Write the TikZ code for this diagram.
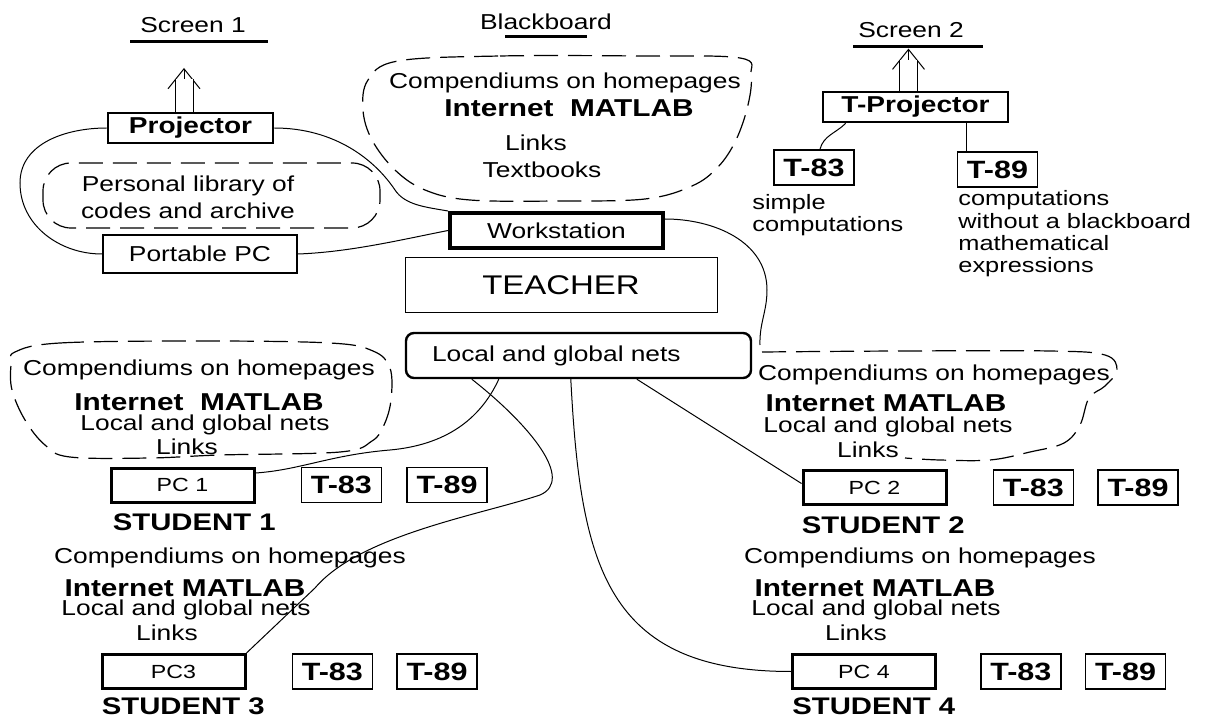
\documentclass[tikz,border=0pt]{standalone}
\usepackage{fontspec}
\setmainfont{Liberation Sans}[FakeStretch=1.22]
\usepackage{tikz}
\usetikzlibrary{arrows.meta, positioning, calc}
\tikzset{
  plain/.style={inner sep=0pt, font=\fontsize{10.8}{11}\selectfont},
  heavy/.style={inner sep=0pt, font=\bfseries\fontsize{12.2}{12.5}\selectfont},
  note/.style={inner sep=0pt, align=left, font=\fontsize{10.4}{11.2}\selectfont},
  stulbl/.style={inner sep=0pt, font=\bfseries\fontsize{12}{12}\selectfont},
  calcbox/.style={
    draw, line width=0.85pt, inner sep=0pt,
    minimum width=40pt, minimum height=17.5pt,
    font=\bfseries\fontsize{12.5}{13}\selectfont
  },
  pcbox/.style={
    draw, line width=1.5pt, inner sep=0pt,
    minimum width=71.5pt, minimum height=17pt,
    font=\fontsize{9.5}{10}\selectfont
  },
  projbox/.style={
    draw, line width=1.3pt, inner sep=0pt, minimum height=15pt,
    font=\bfseries\fontsize{11.5}{12}\selectfont
  },
  wire/.style={line width=0.5pt},
  cloudline/.style={line width=0.6pt, dash pattern=on 12pt off 5pt},
  screenbar/.style={line width=1.5pt},
  beam/.style={double, double distance=8.5pt, line width=0.5pt},
  beamtip/.style={line width=0.5pt, -{Straight Barb[length=10pt,width=16pt]}}
}

\begin{document}
\begin{tikzpicture}[x=0.5pt, y=-0.5pt]
  \useasboundingbox (0,0) rectangle (1207,717);

  %% -- Screens and blackboard ------------------------------------------
  \node[plain] (scr1) at (193,25) {Screen 1};
  \coordinate (bar1) at (199,42);
  \draw[screenbar] ([xshift=-34.5pt]bar1) -- ([xshift=34.5pt]bar1);

  \node[plain] (board) at (546,22) {Blackboard};
  \coordinate (bar0) at (546,37);
  \draw[screenbar] ([xshift=-20.5pt]bar0) -- ([xshift=20.5pt]bar0);

  \node[plain] (scr2) at (911,30) {Screen 2};
  \coordinate (bar2) at (918,47);
  \draw[screenbar] ([xshift=-32.5pt]bar2) -- ([xshift=32.5pt]bar2);

  %% -- Teacher desk ----------------------------------------------------
  \node[projbox, minimum width=82.5pt] (proj) at (190.5,128) {Projector};
  \node[projbox, line width=1.2pt, minimum width=97pt, minimum height=19pt,
        font=\fontsize{10.8}{11}\selectfont] (ppc) at (200,254) {Portable PC};
  \node[draw, line width=2pt, minimum width=106.5pt, minimum height=17.5pt,
        plain] (ws) at (556.5,230.5) {Workstation};
  \node[draw, line width=0.5pt, minimum width=156pt, minimum height=27.5pt,
        inner sep=0pt, font=\fontsize{13.5}{14}\selectfont] (teach) at (561,285.5) {TEACHER};
  \node[draw, line width=1.2pt, rounded corners=4pt, minimum height=22.5pt,
        inner xsep=13pt, inner ysep=0pt, text width=146.5pt, align=left,
        font=\fontsize{10.8}{11}\selectfont] (local) at (578.5,355.5) {Local and global nets};

  % personal library
  \draw[cloudline, rounded corners=14pt] (43,163) rectangle (380,228);
  \node[plain, align=center, font=\fontsize{10.8}{13.5}\selectfont] (plib) at (188,197)
    {Personal library of\\codes and archive};

  % blackboard cloud
  \draw[cloudline] plot[smooth cycle, tension=0.6] coordinates {
    (398,61) (500,56) (640,56) (740,58) (751,75) (748,105) (736,140)
    (718,167) (692,186) (645,199) (560,201) (470,200) (425,190)
    (395,170) (372,140) (363,110) (368,80)};
  \node[plain] (bbComp)  at (565,83)  {Compendiums on homepages};
  \node[heavy] (bbNet)   at (569,108) {Internet~~MATLAB};
  \node[plain] (bbLinks) at (536,143) {Links};
  \node[plain] (bbBooks) at (542,170) {Textbooks};

  %% -- Calculator projector --------------------------------------------
  \node[projbox, minimum width=92.5pt] (tproj) at (915.5,107) {T-Projector};
  \node[calcbox] (t83t) at (814,167.5) {T-83};
  \node[calcbox] (t89t) at (997.5,169.5) {T-89};
  \node[note, anchor=west] (simple) at (752,215) {simple\\computations};
  \node[note, anchor=west] (nobb) at (958,234)
    {computations\\without a blackboard\\mathematical\\expressions};

  %% -- Student 1 -------------------------------------------------------
  \draw[cloudline] plot[smooth cycle, tension=0.6] coordinates {
    (15,352) (60,343) (200,341) (330,343) (373,351) (390,368) (391,400)
    (384,425) (372,441) (340,452) (220,455) (150,458) (70,457) (45,445)
    (25,420) (12,390) (11,365)};
  \node[plain] (c1Comp)  at (199,370) {Compendiums on homepages};
  \node[heavy] (c1Net)   at (199,402) {Internet~~MATLAB};
  \node[plain] (c1Local) at (205,425) {Local and global nets};
  \node[plain] (c1Links) at (187,447) {Links};
  \node[pcbox] (pc1) at (182.5,485) {PC 1};
  \node[calcbox, right=22.5pt of pc1] (t83a) {T-83};
  \node[calcbox, right=12pt of t83a] (t89a) {T-89};
  \node[stulbl, below right=5pt and 1.5pt of pc1.south west] (stu1) {STUDENT 1};

  %% -- Student 2 -------------------------------------------------------
  \draw[cloudline] plot[smooth, tension=0.6] coordinates {
    (762,352) (900,351) (1050,351) (1105,355) (1117,370) (1105,386)
    (1089,398) (1080,425) (1064,443) (1030,452) (990,460) (940,460) (905,458)};
  \node[plain] (c2Comp)  at (934,375) {Compendiums on homepages};
  \node[heavy] (c2Net)   at (886,403) {Internet MATLAB};
  \node[plain] (c2Local) at (888,427) {Local and global nets};
  \node[plain] (c2Links) at (868,450) {Links};
  \node[pcbox] (pc2) at (874.5,487.5) {PC 2};
  \node[calcbox, right=22.5pt of pc2] (t83b) {T-83};
  \node[calcbox, right=11.5pt of t83b] (t89b) {T-89};
  \node[stulbl, below right=5pt and 0pt of pc2.south west] (stu2) {STUDENT 2};

  %% -- Student 3 -------------------------------------------------------
  \node[plain] (c3Comp)  at (230,558) {Compendiums on homepages};
  \node[heavy] (c3Net)   at (185,588) {Internet MATLAB};
  \node[plain] (c3Local) at (186,610) {Local and global nets};
  \node[plain] (c3Links) at (167,633) {Links};
  \node[pcbox] (pc3) at (173.5,671.5) {PC3};
  \node[calcbox, right=22.5pt of pc3] (t83c) {T-83};
  \node[calcbox, right=11.5pt of t83c] (t89c) {T-89};
  \node[stulbl, below right=3.5pt and 0.5pt of pc3.south west] (stu3) {STUDENT 3};

  %% -- Student 4 -------------------------------------------------------
  \node[plain] (c4Comp)  at (920,558) {Compendiums on homepages};
  \node[heavy] (c4Net)   at (875,588) {Internet MATLAB};
  \node[plain] (c4Local) at (876,610) {Local and global nets};
  \node[plain] (c4Links) at (856,633) {Links};
  \node[pcbox] (pc4) at (864,671.5) {PC 4};
  \node[calcbox, right=21.5pt of pc4] (t83d) {T-83};
  \node[calcbox, right=11.5pt of t83d] (t89d) {T-89};
  \node[stulbl, below right=3.5pt and 0.5pt of pc4.south west] (stu4) {STUDENT 4};

  %% -- Projections -----------------------------------------------------
  \coordinate (p1) at ([xshift=-3.25pt]proj.north);
  \draw[beamtip, shorten >=13pt] (p1) -- (p1 |- bar1);
  \draw[beam, shorten >=18.6pt] (p1) -- (p1 |- bar1);
  \coordinate (p2) at ([xshift=-3.5pt]tproj.north);
  \draw[beamtip, shorten >=0.8pt] (p2) -- (p2 |- bar2);
  \draw[beam, shorten >=6.4pt] (p2) -- (p2 |- bar2);

  %% -- Cables ----------------------------------------------------------
  \draw[wire] (proj.west) to[out=180,in=90] (20,183) to[out=-90,in=180] (ppc.west);
  \draw[wire] (proj.east) .. controls (335,128) and (375,160) .. (395,190)
    .. controls (405,205) and (425,207) .. (ws.north west);
  \draw[wire] (ppc.east) .. controls (350,252) and (400,240) .. (ws.west);
  \coordinate (rcl) at (760,345);
  \draw[wire] ($(ws.north east)+(0,8)$) to[out=0,in=90] (767,290)
    to[out=-90,in=92] (rcl);

  \draw[wire] ($(tproj.south west)+(24,0)$) to[out=-135,in=75] ($(t83t.north)+(6,0)$);
  \coordinate (t89in) at ($(t89t.north west)+(10,0)$);
  \draw[wire] (t89in) -- (t89in |- tproj.south);

  % nets to the student PCs
  \draw[wire] ($(local.south west)+(94,0)$) .. controls (480,420) and (445,445) .. (390,450)
    .. controls (330,455) and (300,470) .. ($(pc1.east)+(0,-12)$);
  \draw[wire] ($(local.south west)+(67,0)$) .. controls (530,425) and (575,480) .. (540,495)
    .. controls (480,515) and (360,535) .. (315,588) -- (pc3.north east);
  \draw[wire] ($(local.south west)+(232,0)$) -- ($(pc2.west)+(0,-4)$);
  \draw[wire] ($(local.south west)+(166,0)$) to[out=-87,in=180,looseness=1.3] (pc4.west);
\end{tikzpicture}
\end{document}
